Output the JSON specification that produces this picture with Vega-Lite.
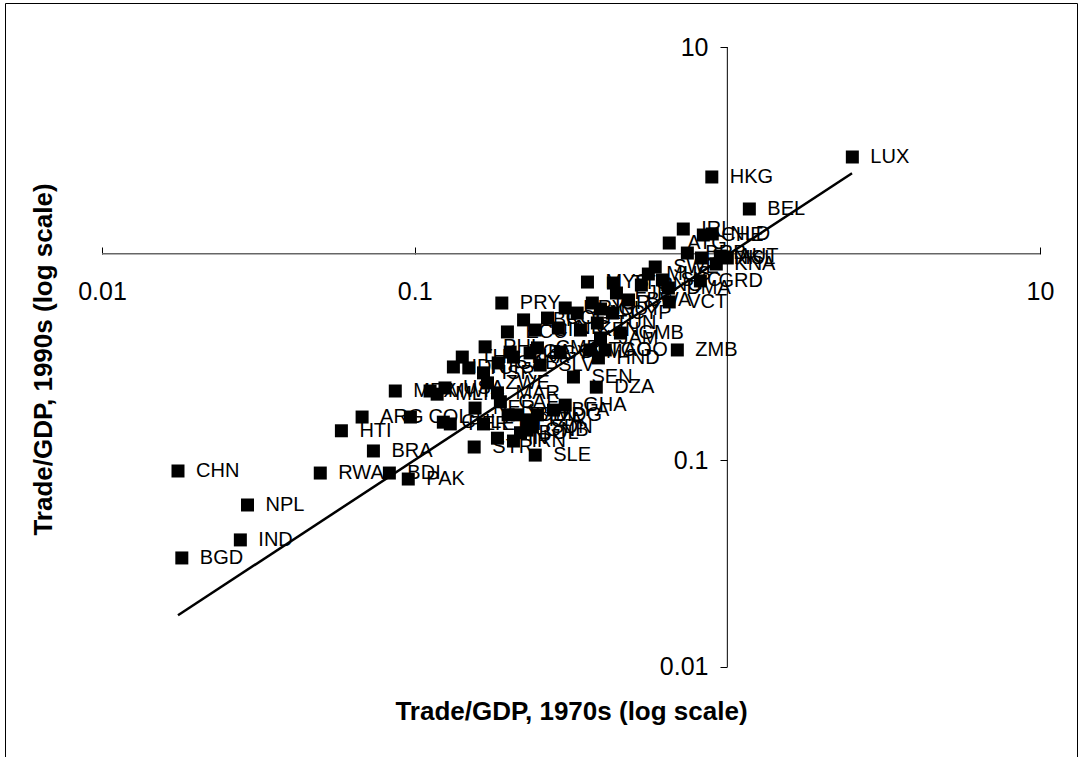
{
  "$schema": "https://vega.github.io/schema/vega-lite/v6.json",
  "width": 1072,
  "height": 756,
  "autosize": {"type": "none"},
  "padding": {"left": 5, "top": 3, "right": 3, "bottom": -2},
  "background": "white",
  "config": {
    "view": {"stroke": "#000", "strokeWidth": 1},
    "font": "Liberation Sans"
  },
  "datasets": {
    "countries": [
      {"c": "LUX", "x": 2.511, "y": 2.936},
      {"c": "HKG", "x": 0.892, "y": 2.35},
      {"c": "BEL", "x": 1.176, "y": 1.645},
      {"c": "IRL", "x": 0.723, "y": 1.316},
      {"c": "ATG", "x": 0.652, "y": 1.126},
      {"c": "CHE", "x": 0.838, "y": 1.231},
      {"c": "NLD", "x": 0.895, "y": 1.245},
      {"c": "BRB", "x": 0.745, "y": 1.007},
      {"c": "DNK", "x": 0.826, "y": 0.953},
      {"c": "ISL", "x": 1.0, "y": 0.953},
      {"c": "KNA", "x": 0.922, "y": 0.891},
      {"c": "AUT", "x": 0.95, "y": 0.974},
      {"c": "SWE", "x": 0.588, "y": 0.862},
      {"c": "MUS", "x": 0.559, "y": 0.797},
      {"c": "SYC", "x": 0.62, "y": 0.746},
      {"c": "GRD", "x": 0.82, "y": 0.738},
      {"c": "DMA", "x": 0.648, "y": 0.682},
      {"c": "VCT", "x": 0.652, "y": 0.584},
      {"c": "MYS", "x": 0.357, "y": 0.729},
      {"c": "TTO", "x": 0.432, "y": 0.721},
      {"c": "PNG", "x": 0.531, "y": 0.705},
      {"c": "FJI", "x": 0.442, "y": 0.645},
      {"c": "JOR", "x": 0.37, "y": 0.577},
      {"c": "GUY", "x": 0.393, "y": 0.54},
      {"c": "BWA", "x": 0.483, "y": 0.597},
      {"c": "CYP", "x": 0.429, "y": 0.516},
      {"c": "PRY", "x": 0.19, "y": 0.577},
      {"c": "URY", "x": 0.303, "y": 0.546},
      {"c": "PAN", "x": 0.331, "y": 0.516},
      {"c": "COG", "x": 0.266, "y": 0.488},
      {"c": "LBR", "x": 0.223, "y": 0.478},
      {"c": "TUN", "x": 0.384, "y": 0.462},
      {"c": "ECU", "x": 0.198, "y": 0.418},
      {"c": "CIV", "x": 0.243, "y": 0.427},
      {"c": "NIC", "x": 0.288, "y": 0.437},
      {"c": "KEN", "x": 0.339, "y": 0.427},
      {"c": "JAM", "x": 0.393, "y": 0.391},
      {"c": "GMB", "x": 0.455, "y": 0.413},
      {"c": "PHL", "x": 0.168, "y": 0.354},
      {"c": "UGA", "x": 0.202, "y": 0.334},
      {"c": "CMR", "x": 0.247, "y": 0.35},
      {"c": "GTM", "x": 0.292, "y": 0.334},
      {"c": "TGO", "x": 0.365, "y": 0.342},
      {"c": "AGO", "x": 0.407, "y": 0.342},
      {"c": "ZMB", "x": 0.692, "y": 0.342},
      {"c": "HND", "x": 0.387, "y": 0.313},
      {"c": "THA", "x": 0.142, "y": 0.316},
      {"c": "IDN", "x": 0.133, "y": 0.283},
      {"c": "TUR", "x": 0.149, "y": 0.28},
      {"c": "ISR", "x": 0.166, "y": 0.265},
      {"c": "GAB", "x": 0.185, "y": 0.296},
      {"c": "LKA", "x": 0.207, "y": 0.316},
      {"c": "SLV", "x": 0.252, "y": 0.289},
      {"c": "EGY", "x": 0.234, "y": 0.331},
      {"c": "SEN", "x": 0.322, "y": 0.253},
      {"c": "DZA", "x": 0.381, "y": 0.226},
      {"c": "ZWE", "x": 0.171, "y": 0.237},
      {"c": "MAR", "x": 0.184, "y": 0.212},
      {"c": "CAF", "x": 0.188, "y": 0.192},
      {"c": "MEX", "x": 0.0867, "y": 0.2165},
      {"c": "MWI", "x": 0.112, "y": 0.2165},
      {"c": "MLI", "x": 0.118, "y": 0.209},
      {"c": "USA", "x": 0.125, "y": 0.224},
      {"c": "ARG", "x": 0.0679, "y": 0.162},
      {"c": "COL", "x": 0.0969, "y": 0.162},
      {"c": "CHL", "x": 0.1235, "y": 0.153},
      {"c": "PER", "x": 0.13, "y": 0.15},
      {"c": "HTI", "x": 0.0583, "y": 0.139},
      {"c": "BRA", "x": 0.0738, "y": 0.111},
      {"c": "RWA", "x": 0.0499, "y": 0.0868},
      {"c": "BDI", "x": 0.083, "y": 0.0868},
      {"c": "PAK", "x": 0.0954, "y": 0.0812},
      {"c": "CHN", "x": 0.0175, "y": 0.0888},
      {"c": "NPL", "x": 0.0292, "y": 0.0608},
      {"c": "IND", "x": 0.0277, "y": 0.0412},
      {"c": "BGD", "x": 0.018, "y": 0.0337},
      {"c": "NER", "x": 0.156, "y": 0.179},
      {"c": "BEN", "x": 0.213, "y": 0.166},
      {"c": "MDG", "x": 0.247, "y": 0.166},
      {"c": "BFA", "x": 0.278, "y": 0.175},
      {"c": "GHA", "x": 0.303, "y": 0.185},
      {"c": "ETH", "x": 0.166, "y": 0.15},
      {"c": "TCD", "x": 0.199, "y": 0.166},
      {"c": "GNB", "x": 0.229, "y": 0.14},
      {"c": "SDN", "x": 0.238, "y": 0.145},
      {"c": "TZA", "x": 0.229, "y": 0.157},
      {"c": "SYR", "x": 0.155, "y": 0.116},
      {"c": "IRN", "x": 0.207, "y": 0.124},
      {"c": "FIN", "x": 0.184, "y": 0.128},
      {"c": "SLE", "x": 0.243, "y": 0.106},
      {"c": "BOL", "x": 0.218, "y": 0.136}
    ],
    "fit": [
      {"x": 0.0175, "y": 0.0178},
      {"x": 2.505, "y": 2.448}
    ],
    "xAxisLine": [{"x": 0.01, "x2": 10, "y": 1}],
    "yAxisLine": [{"x": 1, "y": 0.01, "y2": 10}]
  },
  "encoding": {
    "x": {
      "field": "x",
      "type": "quantitative",
      "scale": {"type": "log", "domain": [0.0048949, 13.133], "nice": false},
      "axis": {
        "orient": "bottom",
        "offset": -505,
        "values": [0.01, 0.1, 10],
        "format": "~g",
        "domain": false,
        "grid": false,
        "ticks": true,
        "tickSize": -7,
        "tickColor": "#000",
        "labelPadding": 32,
        "labelFont": "Liberation Sans",
        "labelFontSize": 25,
        "labelColor": "#000",
        "labelFlush": false,
        "labelOverlap": false,
        "title": "Trade/GDP, 1970s (log scale)",
        "titleFont": "Liberation Sans",
        "titleFontSize": 26,
        "titleFontWeight": "bold",
        "titleColor": "#000",
        "titleX": 566,
        "titleY": 457,
        "titleAlign": "center",
        "titleBaseline": "middle",
        "titleAngle": 0
      }
    },
    "y": {
      "field": "y",
      "type": "quantitative",
      "scale": {"type": "log", "domain": [0.0035878, 16.327], "nice": false},
      "axis": {
        "orient": "left",
        "offset": -722,
        "values": [0.01, 0.1, 10],
        "format": "~g",
        "domain": false,
        "grid": false,
        "ticks": true,
        "tickSize": 7,
        "tickColor": "#000",
        "labelPadding": 12,
        "labelFont": "Liberation Sans",
        "labelFontSize": 25,
        "labelColor": "#000",
        "labelFlush": false,
        "labelOverlap": false,
        "title": "Trade/GDP, 1990s (log scale)",
        "titleFont": "Liberation Sans",
        "titleFontSize": 26,
        "titleFontWeight": "bold",
        "titleColor": "#000",
        "titleX": -684,
        "titleY": 356,
        "titleAlign": "center",
        "titleBaseline": "middle",
        "titleAngle": -90
      }
    }
  },
  "layer": [
    {
      "data": {"name": "xAxisLine"},
      "mark": {"type": "rule", "color": "#666", "strokeWidth": 1.5},
      "encoding": {"x2": {"field": "x2"}}
    },
    {
      "data": {"name": "yAxisLine"},
      "mark": {"type": "rule", "color": "#000", "strokeWidth": 1},
      "encoding": {"y2": {"field": "y2"}}
    },
    {
      "data": {"name": "countries"},
      "mark": {"type": "square", "size": 169, "color": "#000", "opacity": 1, "filled": true}
    },
    {
      "data": {"name": "fit"},
      "mark": {"type": "line", "color": "#000", "strokeWidth": 2.5}
    },
    {
      "data": {"name": "countries"},
      "mark": {
        "type": "text",
        "align": "left",
        "baseline": "middle",
        "dx": 18,
        "font": "Liberation Sans",
        "fontSize": 20,
        "color": "#000"
      },
      "encoding": {"text": {"field": "c"}}
    }
  ]
}
